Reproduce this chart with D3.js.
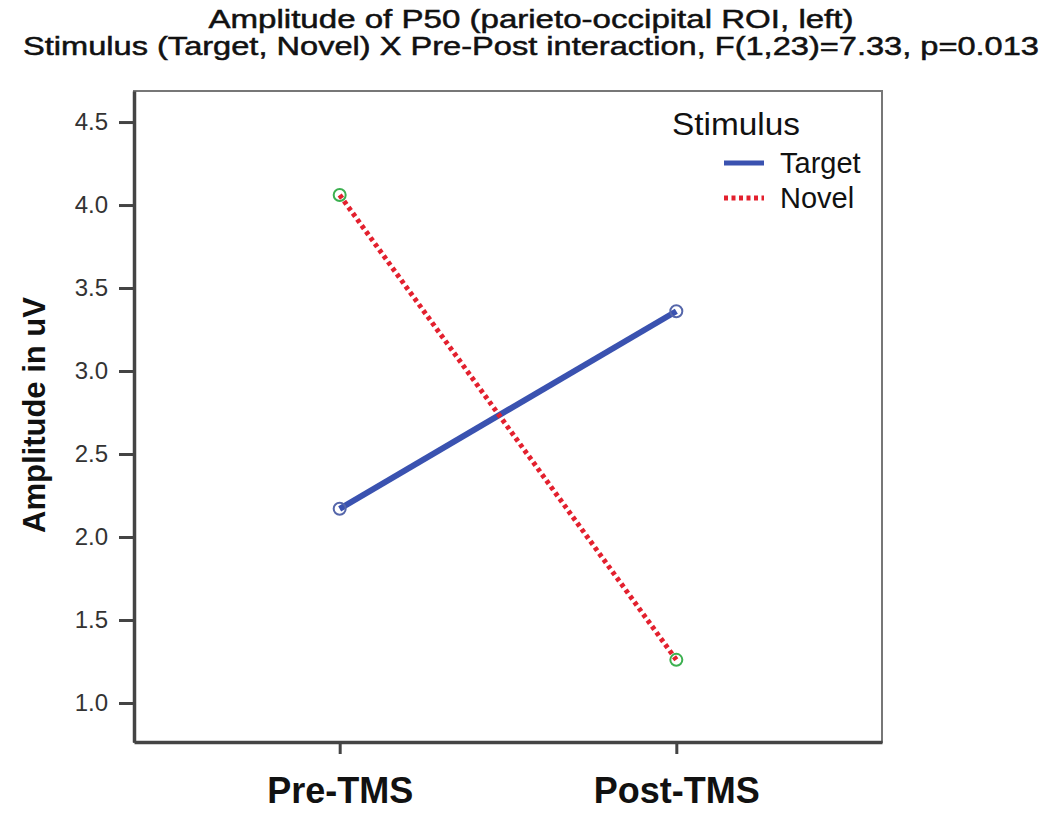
<!DOCTYPE html>
<html><head><meta charset="utf-8">
<script src="https://cdn.jsdelivr.net/npm/d3@7"></script>
<style>body{margin:0;background:#fff}svg{display:block}</style>
</head><body>
<svg id="chart" width="1050" height="816"></svg>
<script>
const categories = ["Pre-TMS", "Post-TMS"];
const targetValues = [2.17, 3.36];
const novelValues = [4.06, 1.26];
const yTicks = [1.0, 1.5, 2.0, 2.5, 3.0, 3.5, 4.0, 4.5];
const seriesNames = ["Target", "Novel"];

const svg = d3.select("#chart");
const L = 134, R = 882, T = 91, B = 742;
const x = d3.scalePoint().domain(categories).range([L, R]).padding(0.611);
const y = d3.scaleLinear().domain([0.765, 4.687]).range([B, T]);
const font = "'Liberation Sans', Arial, sans-serif";

// titles
svg.append("text").attr("x", 531).attr("y", 28).attr("text-anchor", "middle")
  .attr("font-family", font).attr("font-size", 26).attr("fill", "#111")
  .attr("stroke", "#111").attr("stroke-width", 0.5)
  .attr("textLength", 645).attr("lengthAdjust", "spacingAndGlyphs")
  .text("Amplitude of P50 (parieto-occipital ROI, left)");
svg.append("text").attr("x", 531).attr("y", 55).attr("text-anchor", "middle")
  .attr("font-family", font).attr("font-size", 26).attr("fill", "#111")
  .attr("stroke", "#111").attr("stroke-width", 0.5)
  .attr("textLength", 1016).attr("lengthAdjust", "spacingAndGlyphs")
  .text("Stimulus (Target, Novel) X Pre-Post interaction, F(1,23)=7.33, p=0.013");

// frame
svg.append("rect").attr("x", L).attr("y", T).attr("width", R - L).attr("height", B - T)
  .attr("fill", "none").attr("stroke", "#777").attr("stroke-width", 2);

// axes
const yAxis = svg.append("g").attr("transform", `translate(${L},0)`)
  .call(d3.axisLeft(y).tickValues(yTicks).tickFormat(d3.format(".1f")).tickSize(15).tickSizeOuter(0).tickPadding(11));
yAxis.select(".domain").attr("stroke", "#444").attr("stroke-width", 3.5);
yAxis.selectAll(".tick line").attr("stroke", "#444").attr("stroke-width", 3);
yAxis.selectAll(".tick text").attr("font-family", font).attr("font-size", 24).attr("fill", "#333");

const xAxis = svg.append("g").attr("transform", `translate(0,${B})`)
  .call(d3.axisBottom(x).tickSize(12).tickSizeOuter(0).tickPadding(23));
xAxis.select(".domain").attr("stroke", "#444").attr("stroke-width", 3.5);
xAxis.selectAll(".tick line").attr("stroke", "#444").attr("stroke-width", 3);
xAxis.selectAll(".tick text").attr("font-family", font).attr("font-size", 36)
  .attr("font-weight", "bold").attr("fill", "#111");

// y label
svg.append("text").attr("transform", "translate(45,415) rotate(-90)").attr("text-anchor", "middle")
  .attr("font-family", font).attr("font-size", 31).attr("font-weight", "bold").attr("fill", "#111")
  .text("Amplitude in uV");

const line = d3.line().x((d, i) => x(categories[i])).y(d => y(d));

svg.append("path").datum(targetValues).attr("d", line).attr("fill", "none")
  .attr("stroke", "#3a52b0").attr("stroke-width", 6);
svg.append("path").datum(novelValues).attr("d", line).attr("fill", "none")
  .attr("stroke", "#e3202e").attr("stroke-width", 5).attr("stroke-dasharray", "4,3.5");

svg.selectAll(".pt-t").data(targetValues).enter().append("circle")
  .attr("cx", (d, i) => x(categories[i])).attr("cy", d => y(d)).attr("r", 6)
  .attr("fill", "none").attr("stroke", "#5566aa").attr("stroke-width", 2);
svg.selectAll(".pt-n").data(novelValues).enter().append("circle")
  .attr("cx", (d, i) => x(categories[i])).attr("cy", d => y(d)).attr("r", 6)
  .attr("fill", "none").attr("stroke", "#3cb050").attr("stroke-width", 2);

// legend
svg.append("text").attr("x", 672).attr("y", 135).attr("font-family", font).attr("font-size", 31)
  .attr("fill", "#111").attr("textLength", 128).attr("lengthAdjust", "spacingAndGlyphs").text("Stimulus");
const lg = [{name: seriesNames[0], color: "#3a52b0", dash: null, yy: 163},
            {name: seriesNames[1], color: "#e3202e", dash: "4,3.5", yy: 198}];
lg.forEach(d => {
  svg.append("line").attr("x1", 724).attr("x2", 764).attr("y1", d.yy).attr("y2", d.yy)
    .attr("stroke", d.color).attr("stroke-width", 5).attr("stroke-dasharray", d.dash);
  svg.append("text").attr("x", 780).attr("y", d.yy + 10).attr("font-family", font)
    .attr("font-size", 29).attr("fill", "#111").text(d.name);
});
</script>
</body></html>
